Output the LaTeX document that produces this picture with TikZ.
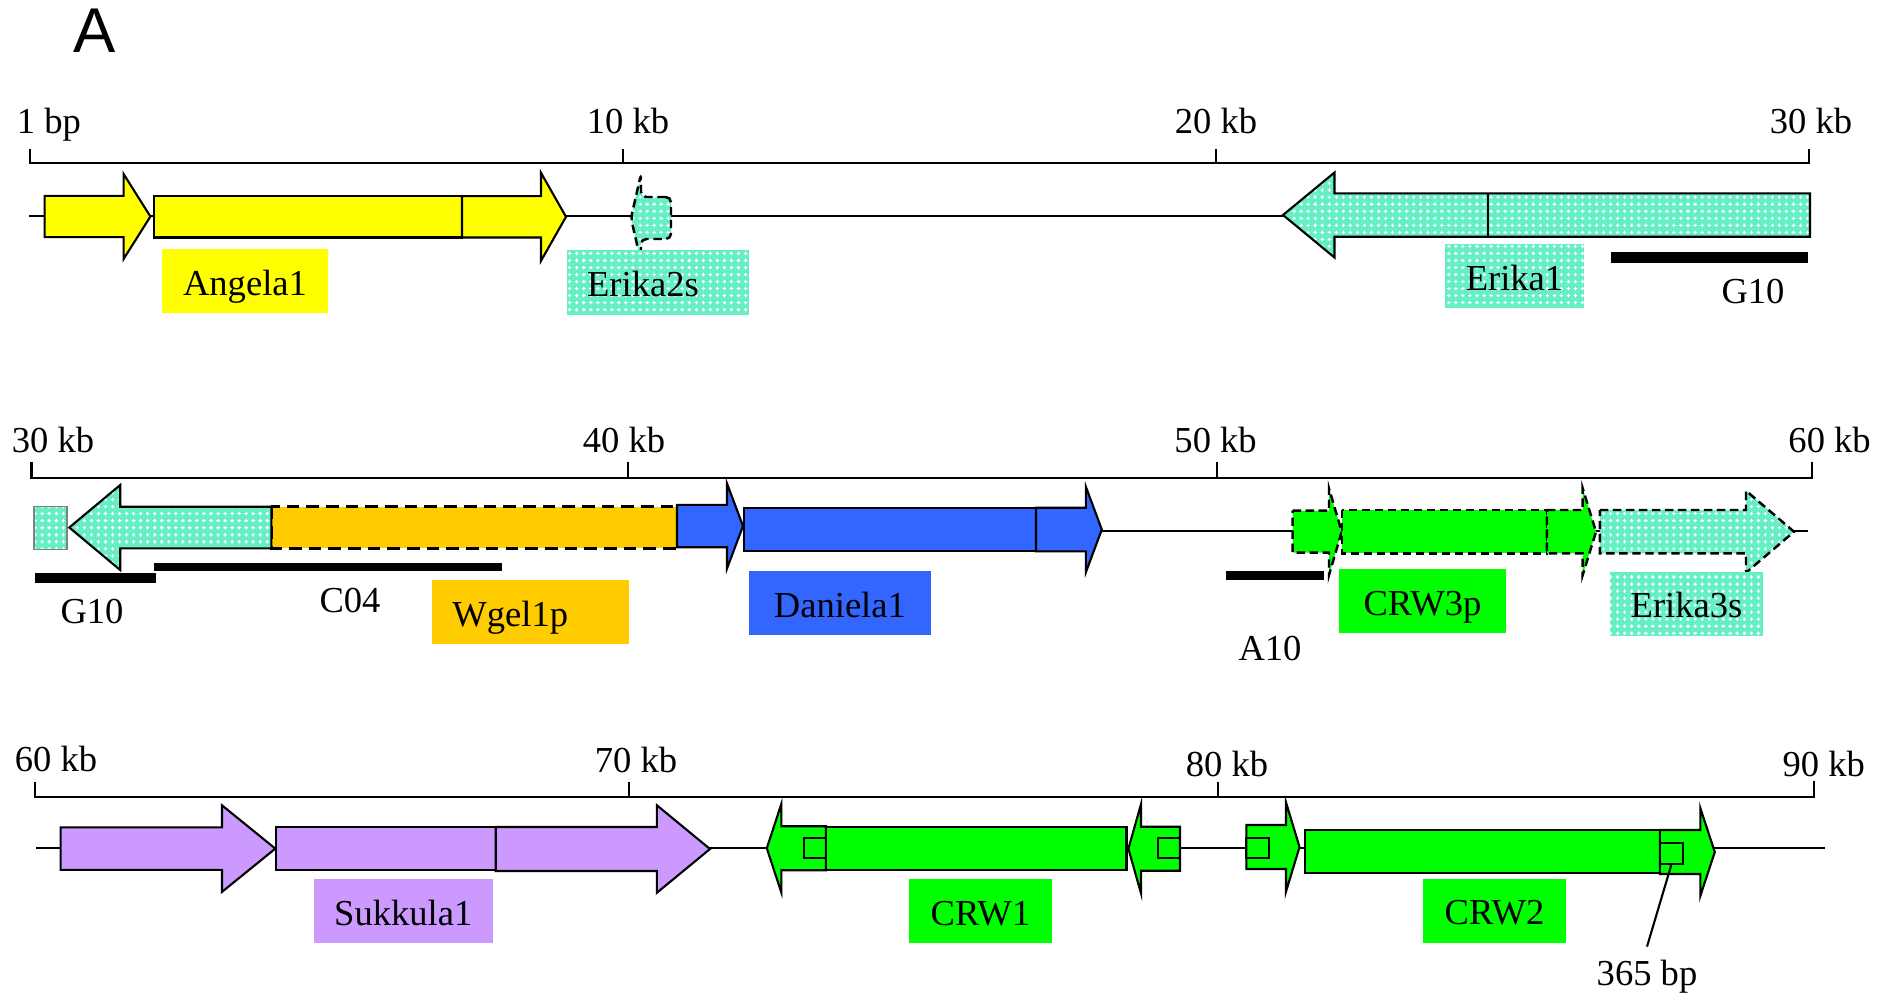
\documentclass[tikz,border=0pt]{standalone}
\usepackage{fontspec}
\setmainfont{Liberation Serif}
\newfontfamily\panelfont{Liberation Sans}
\usetikzlibrary{patterns}

\definecolor{angela}{HTML}{FFFF00}
\definecolor{erikabg}{HTML}{66EEC4}
\definecolor{wgel}{HTML}{FFCC00}
\definecolor{daniela}{HTML}{3366FF}
\definecolor{crw}{HTML}{00FF00}
\definecolor{sukkula}{HTML}{CC99FF}

% white crosses on the Erika fill
\pgfdeclarepatternformonly{erikadots}{\pgfqpoint{-1pt}{-1pt}}{\pgfqpoint{1pt}{1pt}}{\pgfqpoint{2pt}{2pt}}{%
  \pgfpathrectangle{\pgfqpoint{-0.5pt}{-0.15pt}}{\pgfqpoint{1pt}{0.3pt}}%
  \pgfpathrectangle{\pgfqpoint{-0.15pt}{-0.5pt}}{\pgfqpoint{0.3pt}{1pt}}%
  \pgfusepath{fill}}

% style, start, head base, tip, centre y, half body, half head
\newcommand{\genearrow}[7]{%
  \draw[#1] (#2,#5-#6) -- (#3,#5-#6) -- (#3,#5-#7) -- (#4,#5)
    -- (#3,#5+#7) -- (#3,#5+#6) -- (#2,#5+#6) -- cycle;}

\begin{document}
\begin{tikzpicture}[x=0.01cm, y=-0.01cm,
  every node/.style={font=\fontsize{10.4}{12}\selectfont},
  axis/.style={line width=0.6pt},
  backbone/.style={line width=0.6pt},
  part/.style={draw, line width=0.6pt},
  dashpart/.style={draw, line width=0.7pt, dash pattern=on 2.4pt off 1.3pt},
  longdash/.style={draw, line width=0.7pt, dash pattern=on 3.6pt off 2pt},
  erika/.style={preaction={fill=erikabg}, pattern=erikadots, pattern color=white},
  scalelbl/.style={anchor=base, inner sep=0pt},
  lblbox/.style={inner sep=0pt, minimum height=0.64cm, text height=8.5pt, text depth=0.5pt},
  probe/.style={fill=black}
]
\useasboundingbox (0,0) rectangle (1890,999);

\node[font=\panelfont\fontsize{18}{20}\selectfont, inner sep=0pt] (panel) at (94.5,30.3) {A};

% Row 1: 1 bp - 30 kb
\draw[axis] (30,149.3) -- (30,163.3) -- (1809,163.3) -- (1809,149.3);
\foreach \x in {623,1216} \draw[axis] (\x,149.3) -- (\x,163.3);
\foreach \x/\txt [count=\i] in {49/1 bp, 628/10 kb, 1216/20 kb, 1811/30 kb}
  \node[scalelbl] (ax1_\i) at (\x,133) {\txt};

\draw[backbone] (29,216) -- (1283,216);
\genearrow{part, fill=angela}{44.6}{123.6}{150.4}{216.5}{20.6}{42.5}
\draw[part, fill=angela] (154,196) rectangle (462,237.5);
\genearrow{part, fill=angela}{462}{541}{566}{216.8}{20.7}{44}
\genearrow{dashpart, erika, rounded corners=1.5pt}{671}{641}{631}{218}{21}{44}
\genearrow{part, erika}{1810}{1334.5}{1283}{215}{21.7}{42.5}
\draw[part] (1488,193.3) -- (1488,236.7);
\fill[probe] (1611,252) rectangle (1808,263);

\node[lblbox, fill=angela, minimum width=1.66cm] (lbl_angela1) at (245,281) {Angela1};
\node[lblbox, erika, minimum width=1.82cm] (lbl_erika2s) at (658,282.5) {\hspace*{-0.3cm}Erika2s};
\node[lblbox, erika, minimum width=1.39cm] (lbl_erika1) at (1514.5,276) {Erika1};
\node[scalelbl] (lbl_g10a) at (1753,303) {G10};

% Row 2: 30 kb - 60 kb
\draw[axis] (31.5,462) -- (31.5,477.7) -- (1811.7,477.7) -- (1811.7,462);
\foreach \x in {627.7,1216.6} \draw[axis] (\x,462) -- (\x,477.7);
\foreach \x/\txt [count=\i] in {53/30 kb, 624/40 kb, 1215.6/50 kb, 1829.6/60 kb}
  \node[scalelbl] (ax2_\i) at (\x,452.7) {\txt};

\draw[backbone] (1101.8,530.7) -- (1808.4,530.7);
\draw[erika, draw=gray, line width=0.4pt] (34,506.7) rectangle (67,549.3);
\draw[longdash, fill=wgel] (271.4,506.7) rectangle (677,548.3);
\genearrow{part, erika}{271.4}{120.2}{69.3}{527.5}{20.8}{42.5}
\genearrow{part, fill=daniela}{677}{727}{743}{526}{21.2}{42.5}
\draw[part, fill=daniela] (744,507.7) rectangle (1036,551);
\genearrow{part, fill=daniela}{1036}{1085.8}{1101.8}{529.5}{21.8}{43}
\genearrow{dashpart, fill=crw}{1292.7}{1329}{1341.7}{531.7}{21}{43.3}
\draw[dashpart, fill=crw] (1341.8,510) rectangle (1546.8,553.3);
\genearrow{dashpart, fill=crw}{1546.8}{1582.7}{1596}{531.7}{21.7}{43.3}
\genearrow{dashpart, erika}{1599.8}{1746}{1794}{531.7}{21.7}{41}
\fill[probe] (34.9,572.7) rectangle (156,583.3);
\fill[probe] (154,563.3) rectangle (501.7,571);
\fill[probe] (1226,571) rectangle (1323.5,580);

\node[scalelbl] (lbl_g10b) at (92,623.3) {G10};
\node[scalelbl] (lbl_c04) at (350,612.7) {C04};
\node[scalelbl] (lbl_a10) at (1270,660) {A10};
\node[lblbox, fill=wgel, minimum width=1.966cm] (lbl_wgel1p) at (530.3,612.2) {\hspace*{-0.4cm}Wgel1p};
\node[lblbox, fill=daniela, minimum width=1.818cm] (lbl_daniela1) at (839.9,603.4) {Daniela1};
\node[lblbox, fill=crw, minimum width=1.67cm] (lbl_crw3p) at (1422.5,601.2) {CRW3p};
\node[lblbox, erika, minimum width=1.53cm] (lbl_erika3s) at (1686.5,603.9) {Erika3s};

% Row 3: 60 kb - 90 kb
\draw[axis] (35,781.7) -- (35,796.7) -- (1813.8,796.7) -- (1813.8,780.5);
\foreach \x in {629,1218.4} \draw[axis] (\x,781.7) -- (\x,796.7);
\node[scalelbl] (ax3_1) at (56,771.7) {60 kb};
\node[scalelbl] (ax3_2) at (636,772) {70 kb};
\node[scalelbl] (ax3_3) at (1227,776.7) {80 kb};
\node[scalelbl] (ax3_4) at (1823.7,776) {90 kb};

\draw[backbone] (36.4,848) -- (1824.8,848);
\genearrow{part, fill=sukkula}{60.6}{222}{275.3}{848.6}{21.3}{43.3}
\draw[part, fill=sukkula] (276.3,827.3) rectangle (495.8,870);
\genearrow{part, fill=sukkula}{495.8}{656.8}{710}{849}{22}{43.8}

\genearrow{part, fill=crw}{826}{781.3}{766.8}{848.2}{22}{44.2}
\draw[part] (804,837.7) rectangle (826,858.3);
\draw[part, fill=crw] (826,827.3) rectangle (1126.5,870);
\genearrow{part, fill=crw}{1180}{1141}{1128.4}{848.7}{22}{44.6}
\draw[part] (1158,837.7) rectangle (1180,858.3);

\genearrow{part, fill=crw}{1246.3}{1286}{1299.5}{847}{22}{44.7}
\draw[part] (1246.3,837.7) rectangle (1269,858.3);
\draw[part, fill=crw] (1304.7,830) rectangle (1659.8,873.3);
\genearrow{part, fill=crw}{1659.8}{1700.3}{1714.8}{852}{22}{44}
\node[part, inner sep=0pt, minimum width=0.229cm, minimum height=0.213cm] (sq365) at (1671.25,853.35) {};

\node[lblbox, fill=sukkula, minimum width=1.794cm] (lbl_sukkula1) at (403.3,911.2) {Sukkula1};
\node[lblbox, fill=crw, minimum width=1.43cm] (lbl_crw1) at (980.5,911.2) {CRW1};
\node[lblbox, fill=crw, minimum width=1.43cm] (lbl_crw2) at (1494.5,910.9) {CRW2};
\node[scalelbl, inner sep=3.5pt] (lbl_365) at (1647,985) {365 bp};
\draw[line width=0.6pt] (sq365.south) -- (lbl_365.north);

\end{tikzpicture}
\end{document}
